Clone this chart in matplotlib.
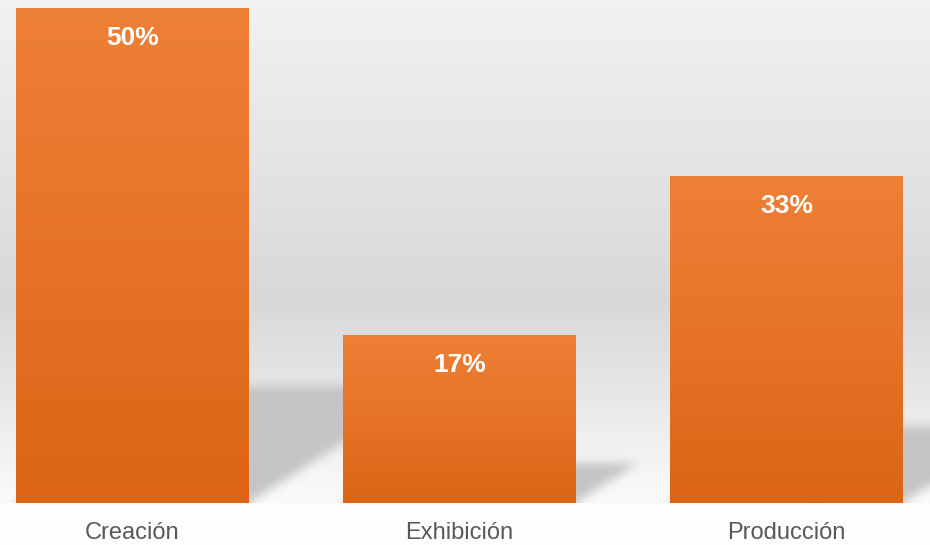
import numpy as np
import matplotlib.pyplot as plt
from matplotlib.colors import LinearSegmentedColormap

categories = ["Creación", "Exhibición", "Producción"]
shares = [50, 17, 33]
share_labels = ["50%", "17%", "33%"]

plt.rcParams["font.family"] = ["Liberation Sans", "DejaVu Sans"]

W, H = 930, 545
fig = plt.figure(figsize=(W / 100, H / 100), dpi=100)

# background: soft grey band behind the bars, white underneath
bg = fig.add_axes([0, 0, 1, 1], zorder=-2)
stops_y = [0, 150, 300, 400, 480, 503, 506, 545]
stops_v = [242, 229, 216, 232, 247, 251, 253, 253]
col = np.interp(np.arange(H), stops_y, stops_v) / 255
bg.imshow(np.repeat(col[:, None], 3, axis=1)[:, None, :].repeat(2, axis=1),
          aspect="auto", extent=(0, 1, 0, 1), interpolation="bilinear")
bg.axis("off")

ax = fig.add_axes([0, (H - 503) / H, 1, 495 / H])
ax.set_facecolor("none")
x = np.arange(len(categories))
width = 0.7125
ax.set_xlim(-0.405, 2.439)
ax.set_ylim(0, 50)
for s in ax.spines.values():
    s.set_visible(False)
ax.set_yticks([])


def blur(a, r):
    for axis in (0, 1):
        p = np.pad(a, [(r, r) if i == axis else (0, 0) for i in range(2)], mode="edge")
        c = np.cumsum(p, axis=axis)
        c = np.insert(c, 0, 0, axis=axis)
        n = a.shape[axis]
        a = (np.take(c, np.arange(2 * r + 1, n + 2 * r + 1), axis=axis)
             - np.take(c, np.arange(0, n), axis=axis)) / (2 * r + 1)
    return a


# slanted shadows cast by the bars
x0, x1 = ax.get_xlim()
ny, nx = 495, W
X, Y = np.meshgrid(np.linspace(x0, x1, nx), np.linspace(50, 0, ny))
skew = 0.0475
mask = np.zeros((ny, nx))
for xi, v in zip(x, shares):
    xs = X - skew * Y
    mask[(Y <= 0.235 * v) & (xs >= xi - width / 2) & (xs <= xi + width / 2)] = 1
mask = blur(blur(mask, 5), 5)
shadow = np.zeros((ny, nx, 4))
shadow[..., :3] = 197 / 255
shadow[..., 3] = mask
ax.imshow(shadow, extent=(x0, x1, 0, 50), aspect="auto", zorder=1,
          interpolation="bilinear")

bars = ax.bar(x, shares, width=width, color="none", zorder=2)
grad = LinearSegmentedColormap.from_list("bar", ["#dc6414", "#e67328", "#ee8036"])
for b in bars:
    im = ax.imshow(np.linspace(0, 1, 256)[:, None], cmap=grad, origin="lower",
                   aspect="auto", zorder=2,
                   extent=(b.get_x(), b.get_x() + b.get_width(), 0, b.get_height()))
    im.set_clip_path(b)

for xi, v, lab in zip(x, shares, share_labels):
    ax.annotate(lab, (xi, v), xytext=(0, -13), textcoords="offset points",
                ha="center", va="top", color="white", fontsize=19,
                fontweight="bold", zorder=3)

ax.set_xlim(x0, x1)
ax.set_ylim(0, 50)
ax.set_xticks(x, categories)
ax.tick_params(axis="x", length=0, pad=13.5, labelsize=17, labelcolor="#595959")

fig.savefig("out.png", dpi=100)
